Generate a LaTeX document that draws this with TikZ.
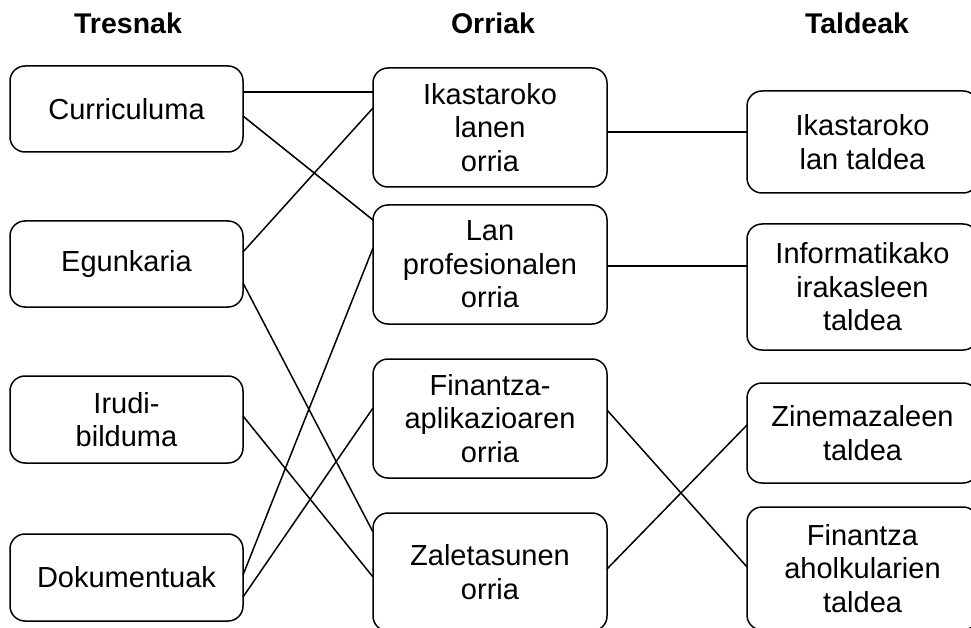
\documentclass[tikz,border=0pt]{standalone}
\usepackage{fontspec}
\setmainfont{Liberation Sans}
\begin{document}
\begin{tikzpicture}[x=1pt,y=-1pt,
  box/.style={draw,line width=1.5pt,rounded corners=15pt,inner sep=0pt,outer sep=0pt,
    align=center,font=\fontsize{29}{33.5}\selectfont},
  head/.style={font=\fontsize{28.5}{33}\selectfont\bfseries,inner sep=0pt,anchor=base},
  link/.style={line width=1.5pt}]
\useasboundingbox (0,0) rectangle (971,628);
% headers
\node[head] (h1) at (128,34) {Tresnak};
\node[head] (h2) at (493,34) {Orriak};
\node[head] (h3) at (857,34) {Taldeak};
% left column
\node[box,minimum width=233pt,minimum height=86pt] (cur) at (126.5,109) {Curriculuma};
\node[box,minimum width=233pt,minimum height=86pt] (egu) at (126.5,264) {Egunkaria};
\node[box,minimum width=233pt,minimum height=87pt] (iru) at (126.5,419.5) {Irudi-\\bilduma};
\node[box,minimum width=233pt,minimum height=87pt] (dok) at (126.5,577.5) {Dokumentuak};
% middle column
\node[box,minimum width=234pt,minimum height=119pt] (ika) at (490,127.5) {Ikastaroko\\lanen\\orria};
\node[box,minimum width=234pt,minimum height=119pt] (lan) at (490,264.5) {Lan\\profesionalen\\orria};
\node[box,minimum width=234pt,minimum height=119pt] (fin) at (490,418.5) {Finantza-\\aplikazioaren\\orria};
\node[box,minimum width=234pt,minimum height=118pt] (zal) at (490,572) {Zaletasunen\\orria};
% right column
\node[box,minimum width=231pt,minimum height=102pt] (ikt) at (862.5,142) {Ikastaroko\\lan taldea};
\node[box,minimum width=231pt,minimum height=126pt] (inf) at (862.5,287) {Informatikako\\irakasleen\\taldea};
\node[box,minimum width=231pt,minimum height=100pt] (zin) at (862.5,433) {Zinemazaleen\\taldea};
\node[box,minimum width=231pt,minimum height=123pt] (fah) at (862.5,568.5) {Finantza\\aholkularien\\taldea};
% connectors left-middle
\draw[link] ([yshift=17pt]cur.east) -- ([yshift=35.5pt]ika.west);
\draw[link] ([yshift=-7pt]cur.east) -- ([yshift=44.5pt]lan.west);
\draw[link] ([yshift=12pt]egu.east) -- ([yshift=19.5pt]ika.west);
\draw[link] ([yshift=-19pt]egu.east) -- ([yshift=40pt]zal.west);
\draw[link] ([yshift=3.5pt]iru.east) -- ([yshift=-5pt]zal.west);
\draw[link] ([yshift=2.5pt]dok.east) -- ([yshift=16.5pt]lan.west);
\draw[link] ([yshift=-19.5pt]dok.east) -- ([yshift=10.5pt]fin.west);
% connectors middle-right
\draw[link] ([yshift=-4.5pt]ika.east) -- ([yshift=10pt]ikt.west);
\draw[link] ([yshift=-1.5pt]lan.east) -- ([yshift=21pt]inf.west);
\draw[link] ([yshift=8.5pt]fin.east) -- ([yshift=1.5pt]fah.west);
\draw[link] ([yshift=3pt]zal.east) -- ([yshift=8pt]zin.west);
\end{tikzpicture}
\end{document}
